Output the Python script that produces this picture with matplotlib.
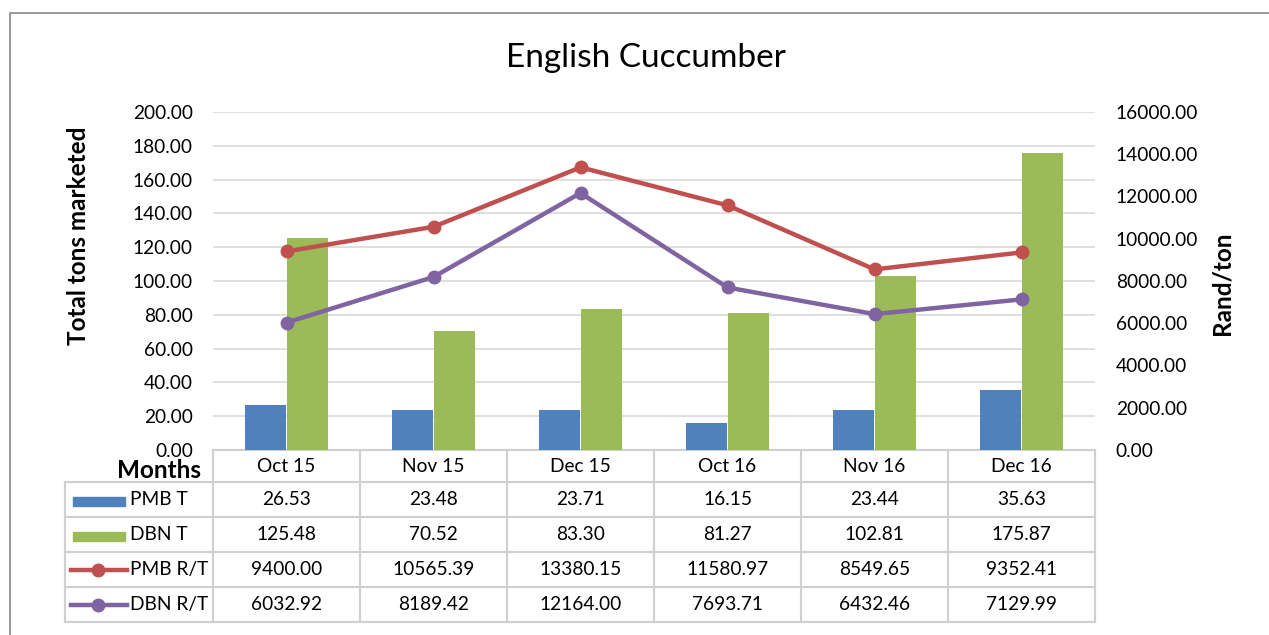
import numpy as np
import matplotlib.pyplot as plt
import matplotlib.transforms as mtransforms
from matplotlib.lines import Line2D
from matplotlib.patches import Rectangle

plt.rcParams['font.family'] = ['Lato', 'DejaVu Sans']

months = ['Oct 15', 'Nov 15', 'Dec 15', 'Oct 16', 'Nov 16', 'Dec 16']
pmb_t = [26.53, 23.48, 23.71, 16.15, 23.44, 35.63]
dbn_t = [125.48, 70.52, 83.30, 81.27, 102.81, 175.87]
pmb_rt = [9400.00, 10565.39, 13380.15, 11580.97, 8549.65, 9352.41]
dbn_rt = [6032.92, 8189.42, 12164.00, 7693.71, 6432.46, 7129.99]

c_blue = '#4F81BD'
c_green = '#9BBB59'
c_red = '#C0504D'
c_purple = '#8064A2'
c_grid = '#d9d9d9'
fs = 13.8

W, H = 1269, 635
fig = plt.figure(figsize=(W / 100, H / 100), dpi=100)


def fx(p):
    return p / W


def fy(p):
    return 1 - p / H


ax = fig.add_axes([fx(213), fy(450), fx(1095) - fx(213), fy(112) - fy(450)])
x = np.arange(len(months))
ax.bar(x - 0.143, pmb_t, 0.28, color=c_blue, zorder=3)
ax.bar(x + 0.143, dbn_t, 0.28, color=c_green, zorder=3)
ax.set_xlim(-0.5, len(months) - 0.5)
ax.set_ylim(0, 200)
ax.set_yticks(np.arange(0, 201, 20))
ax.yaxis.set_major_formatter(lambda v, p: f'{v:.2f}')
ax.grid(axis='y', color=c_grid, lw=1.2)
ax.set_axisbelow(True)
ax.set_xticks([])
for s in ax.spines.values():
    s.set_visible(False)
ax.tick_params(length=0, pad=14.5, labelsize=fs)

ax2 = ax.twinx()
ax2.plot(x, pmb_rt, color=c_red, lw=3.2, marker='o', ms=9)
ax2.plot(x, dbn_rt, color=c_purple, lw=3.2, marker='o', ms=9)
ax2.set_ylim(0, 16000)
ax2.set_yticks(np.arange(0, 16001, 2000))
ax2.yaxis.set_major_formatter(lambda v, p: f'{v:.2f}')
for s in ax2.spines.values():
    s.set_visible(False)
ax2.tick_params(length=0, pad=15, labelsize=fs)

fig.text(fx(646), fy(58), 'English Cuccumber', ha='center', va='center', fontsize=24)
fig.text(fx(78), fy(236), 'Total tons marketed', rotation=90, ha='center', va='center',
         fontsize=17.5, fontweight='bold')
fig.text(fx(1222), fy(283), 'Rand/ton', rotation=90, ha='center', va='center',
         fontsize=17.5, fontweight='bold')

# outer border
fig.add_artist(Rectangle((fx(10), fy(640)), fx(1300), fy(13) - fy(640), fill=False,
                         edgecolor='#888888', lw=1.2, transform=fig.transFigure))

# data table
tr = mtransforms.blended_transform_factory(ax.transData, fig.transFigure)
row_y = [450, 482, 517, 552, 587, 622]
tcol = '#d0d0d0'
for i in range(len(months) + 1):
    ax.add_line(Line2D([i - 0.5, i - 0.5], [fy(450), fy(622)], color=tcol, lw=1.5,
                       transform=tr, clip_on=False))
ax.add_line(Line2D([-0.5, len(months) - 0.5], [fy(450), fy(450)], color=tcol, lw=1.5,
                   transform=tr, clip_on=False))
for yy in row_y[1:]:
    fig.add_artist(Line2D([fx(65), fx(1095)], [fy(yy), fy(yy)], color=tcol, lw=1.5,
                          transform=fig.transFigure))
fig.add_artist(Line2D([fx(65), fx(65)], [fy(482), fy(622)], color=tcol, lw=1.5,
                      transform=fig.transFigure))

fig.text(fx(201), fy(470), 'Months', ha='right', va='center', fontsize=17.5, fontweight='bold')
for i, m in enumerate(months):
    ax.text(i, fy(466), m, ha='center', va='center', fontsize=fs, transform=tr)

rows = [('PMB T', pmb_t, c_blue, 'bar'), ('DBN T', dbn_t, c_green, 'bar'),
        ('PMB R/T', pmb_rt, c_red, 'line'), ('DBN R/T', dbn_rt, c_purple, 'line')]
for r, (name, vals, col, kind) in enumerate(rows):
    yc = (row_y[r + 1] + row_y[r + 2]) / 2
    if kind == 'bar':
        fig.add_artist(Rectangle((fx(73), fy(yc + 6)), fx(52), fy(yc - 3) - fy(yc + 6),
                                 color=col, transform=fig.transFigure))
    else:
        fig.add_artist(Line2D([fx(71), fx(127)], [fy(yc), fy(yc)], color=col, lw=3.2,
                              transform=fig.transFigure))
        fig.add_artist(Line2D([fx(98)], [fy(yc)], color=col, marker='o', ms=9,
                              transform=fig.transFigure))
    fig.text(fx(130), fy(yc), name, ha='left', va='center', fontsize=fs)
    for i, v in enumerate(vals):
        ax.text(i, fy(yc), f'{v:.2f}', ha='center', va='center', fontsize=fs, transform=tr)

fig.savefig('out.png', dpi=100)
